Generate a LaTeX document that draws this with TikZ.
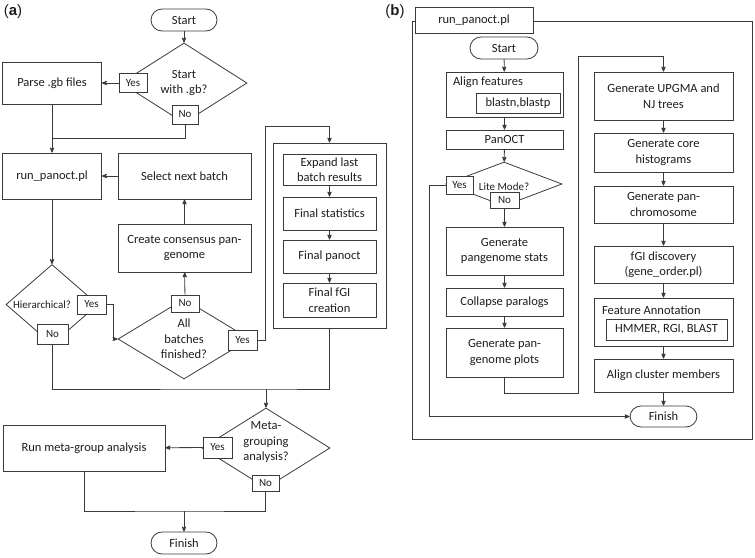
\documentclass[tikz,border=0pt]{standalone}
\usepackage{fontspec}
\setmainfont{Carlito}
\newfontfamily\panelfont{Liberation Sans}
\usepackage{tikz}
\usetikzlibrary{arrows, positioning, shapes.geometric, calc}

\definecolor{ink}{HTML}{3A3A3A}
\definecolor{txt}{HTML}{1E1E1E}

\begin{document}
\begin{tikzpicture}[x=1pt, y=-1pt, color=ink, line width=0.8pt,
    every node/.style={font=\fontsize{12.5}{15.5}\selectfont, text=txt, inner sep=1pt},
    box/.style={draw, rectangle, fill=white, align=center},
    term/.style={draw, rectangle, fill=white, rounded corners=11pt, minimum width=66pt, minimum height=22pt},
    decision/.style={draw, diamond, inner sep=0pt},
    tag/.style={draw, rectangle, fill=white, inner sep=0pt, font=\fontsize{11}{13}\selectfont},
    flow/.style={->, >=stealth', line width=0.8pt}]

    \useasboundingbox (0,0) rectangle (755,557);

    % ---------- (a) ----------
    \node[font=\panelfont\fontsize{15}{18}\selectfont] (labA) at (13,12) {(\textbf{a})};

    \node[term] (startA) at (184,20) {Start};
    \node[decision, minimum width=126pt, minimum height=80pt,
        label={[align=center]center:Start\\with .gb?}] (gbq) at (184,83) {};
    \node[box, minimum width=99pt, minimum height=42pt] (parse) at (52,83) {Parse .gb files};
    \node[tag, minimum width=28pt, minimum height=19pt] (gbyes) at (133,83) {Yes};
    \node[tag, minimum width=26pt, minimum height=19pt] (gbno) at (185,114.5) {No};

    \node[box, minimum width=99pt, minimum height=46pt] (runA) at (52,176) {run\_panoct.pl};
    \node[box, minimum width=133pt, minimum height=46pt] (nextb) at (184.5,176) {Select next batch};
    \node[box, minimum width=133pt, minimum height=48pt] (consensus) at (184.5,248)
        {Create consensus pan-\\genome};

    \node[decision, minimum width=92pt, minimum height=80pt,
        label={[xshift=-10pt, font=\fontsize{11}{13}\selectfont]center:Hierarchical?}] (hierq) at (52,304.5) {};
    \node[tag, minimum width=29pt, minimum height=19pt] (hieryes) at (91.5,304.5) {Yes};
    \node[tag, minimum width=31pt, minimum height=20pt] (hierno) at (52.5,334) {No};

    \node[decision, minimum width=132pt, minimum height=80pt,
        label={[align=center]center:All\\batches\\finished?}] (batchq) at (184,339) {};
    \node[tag, minimum width=28pt, minimum height=17pt] (batchno) at (185,303.5) {No};
    \node[tag, minimum width=29pt, minimum height=20pt] (batchyes) at (242.5,340) {Yes};

    % last batch
    \node[box, minimum width=113pt, minimum height=185pt] (finalgrp) at (329.5,235.5) {};
    \node[box, minimum width=93pt, minimum height=31pt] (expand) at (329.5,169.5) {Expand last\\batch results};
    \node[box, minimum width=93pt, minimum height=33pt] (fstats)
        [below of=expand, node distance=44pt] {Final statistics};
    \node[box, minimum width=93pt, minimum height=33pt] (fpanoct)
        [below of=fstats, node distance=43pt] {Final panoct};
    \node[box, minimum width=93pt, minimum height=34pt] (ffgi)
        [below of=fpanoct, node distance=43.5pt] {Final fGI\\creation};

    \node[decision, minimum width=128pt, minimum height=80pt,
        label={[align=center, yshift=6pt]center:Meta-\\grouping\\analysis?}] (metaq) at (266,448) {};
    \node[box, minimum width=162pt, minimum height=46pt] (metarun) at (84,448) {Run meta-group analysis};
    \node[tag, minimum width=29pt, minimum height=21pt] (metayes) at (217.5,447.5) {Yes};
    \node[tag, minimum width=27pt, minimum height=16pt] (metano) at (265.5,483) {No};
    \node[term] (finishA) at (184,543) {Finish};

    \coordinate (joinA) at (52,138);
    \coordinate (joinB) at (266,389);
    \coordinate (joinC) at (184,511);

    \draw[flow] (startA) -- (gbq);
    \draw[flow] (gbyes.west) -- (gbyes.west -| parse.east);
    \draw[flow] (parse) -- (runA);
    \draw (gbno) |- (joinA);
    \draw[flow] (nextb) -- (runA);
    \draw[flow] (runA) -- (hierq);
    \draw[flow] (hieryes.east) -- ++(7,0) |- (batchq.west);
    \draw[flow] (batchno) -- (consensus);
    \draw[flow] (consensus) -- (nextb);
    \draw[flow] (batchyes.east) -- ++(8,0) |- ([yshift=16pt]finalgrp.north) -- (finalgrp.north);
    \draw[flow] (expand) -- (fstats);
    \draw[flow] (fstats) -- (fpanoct);
    \draw[flow] (fpanoct) -- (ffgi);
    \draw (hierno) |- (joinB) -| (finalgrp.south);
    \draw[flow] (joinB) -- (metaq);
    \draw[flow] (metayes) -- (metarun);
    \draw (metarun) |- (joinC) -| (metano);
    \draw[flow] (joinC) -- (finishA);

    % ---------- (b) ----------
    \node[font=\panelfont\fontsize{15}{18}\selectfont] (labB) at (395,12) {(\textbf{b})};
    \node[draw, minimum width=340pt, minimum height=418pt, inner sep=0pt] (frameB) at (582,230) {};
    \node[box, minimum width=118pt, minimum height=26pt] (runB) at (474,20) {run\_panoct.pl};

    \node[term, minimum width=68pt] (startB) at (504,48) {Start};
    \node[box, minimum width=117pt, minimum height=45pt] (alignf) at (504.5,94.5) {};
    \node[anchor=west, inner sep=0pt] (alignlbl) at ([xshift=7pt, yshift=-11pt]alignf.north west) {Align features};
    \node[box, minimum width=84pt, minimum height=20pt, inner sep=0pt] (blast) at (518,103) {blastn,blastp};
    \node[box, minimum width=117pt, minimum height=19pt, inner sep=0pt] (panoct) at (504.5,139.5) {PanOCT};
    \node[decision, minimum width=116pt, minimum height=44pt,
        label={[yshift=-3pt, font=\fontsize{11}{13}\selectfont]center:Lite Mode?}] (liteq) at (504,184) {};
    \node[tag, minimum width=27pt, minimum height=18pt] (liteyes) at (459.5,185) {Yes};
    \node[tag, minimum width=29pt, minimum height=16pt] (liteno) at (504.5,200) {No};
    \node[box, minimum width=117pt, minimum height=48pt] (pgstats) at (504.5,251) {Generate\\pangenome stats};
    \node[box, minimum width=117pt, minimum height=28pt] (paralogs)
        [below of=pgstats, node distance=51pt] {Collapse paralogs};
    \node[box, minimum width=117pt, minimum height=49pt] (pgplots)
        [below of=paralogs, node distance=50.5pt] {Generate pan-\\genome plots};

    \node[box, minimum width=139pt, minimum height=48pt] (trees) at (663.5,96) {Generate UPGMA and\\NJ trees};
    \node[box, minimum width=139pt, minimum height=39pt] (corehist)
        [below of=trees, node distance=56.5pt] {Generate core\\histograms};
    \node[box, minimum width=139pt, minimum height=37pt] (panchrom)
        [below of=corehist, node distance=52pt] {Generate pan-\\chromosome};
    \node[box, minimum width=139pt, minimum height=37pt] (fgidisc)
        [below of=panchrom, node distance=60pt] {fGI discovery\\(gene\_order.pl)};
    \node[box, minimum width=139pt, minimum height=48pt] (annot)
        [below of=fgidisc, node distance=57.5pt] {};
    \node[anchor=west, inner sep=0pt] (annotlbl) at ([xshift=8pt, yshift=-13pt]annot.north west) {Feature Annotation};
    \node[box, minimum width=121pt, minimum height=21pt, inner sep=0pt] (hmmer) at (666.5,329.5) {HMMER, RGI, BLAST};
    \node[box, minimum width=139pt, minimum height=33pt] (clusters)
        [below of=annot, node distance=53.5pt] {Align cluster members};
    \node[term, minimum width=67pt, minimum height=21pt] (finishB)
        [below of=clusters, node distance=41pt] {Finish};

    \draw[flow] (startB) -- (alignf);
    \draw[flow] (alignf) -- (panoct);
    \draw[flow] (panoct) -- (liteq);
    \draw[flow] (liteno) -- (pgstats);
    \draw[flow] (pgstats) -- (paralogs);
    \draw[flow] (paralogs) -- (pgplots);
    \draw[flow] (liteyes.west) -- ++(-16,0) |- (finishB.west);
    \draw[flow] (pgplots.south) -- ++(0,16) -| ([xshift=-85.5pt, yshift=15pt]trees.north) -| (trees.north);
    \draw[flow] (trees) -- (corehist);
    \draw[flow] (corehist) -- (panchrom);
    \draw[flow] (panchrom) -- (fgidisc);
    \draw[flow] (fgidisc) -- (annot);
    \draw[flow] (annot) -- (clusters);
    \draw[flow] (clusters) -- (finishB);

\end{tikzpicture}
\end{document}
